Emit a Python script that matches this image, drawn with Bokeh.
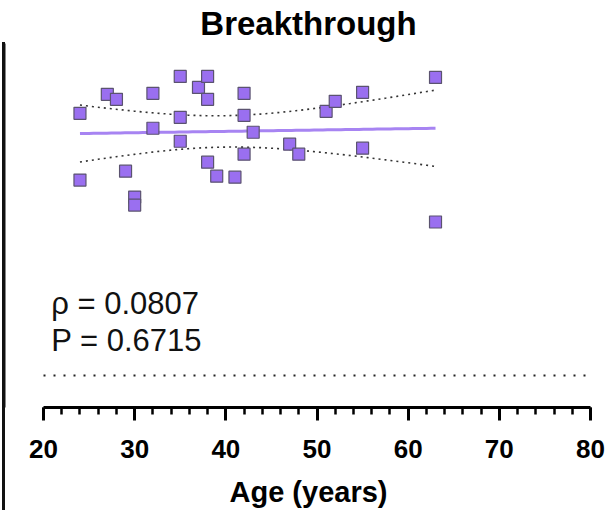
import numpy as np
from bokeh.plotting import figure
from bokeh.models import (Range1d, FixedTicker, Title, Label, BoxAnnotation,
                          ColumnDataSource, InlineStyleSheet)
from bokeh.embed import file_html
from bokeh.resources import INLINE

# ---- data ----
age = [24, 24, 27, 28, 29, 30, 30, 32, 32, 35, 35, 35, 37, 38, 38, 38, 39, 41,
       42, 42, 42, 43, 47, 48, 51, 52, 55, 55, 63, 63]
value = [3.63, 2.96, 3.82, 3.77, 3.05, 2.79, 2.71, 3.83, 3.48, 4.00, 3.59, 3.35,
         3.89, 4.00, 3.77, 3.14, 3.00, 2.99, 3.83, 3.61, 3.22, 3.44, 3.32, 3.22,
         3.65, 3.75, 3.84, 3.28, 3.99, 2.54]
threshold = 1.0
x_ticks = [20, 30, 40, 50, 60, 70, 80]
rho_text = "\u03c1 = 0.0807"
p_text = "P = 0.6715"
title_text = "Breakthrough"
x_label = "Age (years)"

# ---- linear fit with 95% confidence band ----
x = np.array(age, dtype=float)
y = np.array(value, dtype=float)
n = len(x)
slope, intercept = np.polyfit(x, y, 1)
resid = y - (slope * x + intercept)
s = np.sqrt(np.sum(resid ** 2) / (n - 2))
t_crit = 2.048  # t(0.975, df=28)
xf = np.linspace(x.min(), x.max(), 80)
yf = slope * xf + intercept
se = s * np.sqrt(1.0 / n + (xf - x.mean()) ** 2 / np.sum((x - x.mean()) ** 2))
upper = yf + t_crit * se
lower = yf - t_crit * se

FONT = "Liberation Sans"

rule_css = InlineStyleSheet(css="""
:host::after {
  content: '';
  position: absolute;
  left: 2px;
  top: 42px;
  width: 3px;
  height: 468px;
  background: #111111;
  z-index: 10;
  pointer-events: none;
}
""")

p = figure(width=616, height=510, output_backend="svg", toolbar_location=None,
           y_axis_location=None, min_border_left=0, min_border_right=0,
           min_border_top=0, min_border_bottom=0,
           x_range=Range1d(15.283, 82.852), y_range=Range1d(0.68, 4.33))
p.stylesheets = [rule_css]
p.outline_line_color = None
p.xgrid.visible = False
p.ygrid.visible = False
p.background_fill_color = "white"
p.border_fill_color = "white"

p.title = Title(text=title_text, align="center", text_font=FONT,
                text_font_size="33px", text_font_style="bold",
                text_color="black", offset=0, standoff=4)

ax = p.xaxis[0]
ax.bounds = (20, 80)
ax.ticker = FixedTicker(ticks=x_ticks, minor_ticks=list(range(20, 81, 2)))
ax.axis_line_width = 3
ax.axis_line_color = "black"
ax.major_tick_line_width = 3
ax.major_tick_line_color = "black"
ax.major_tick_out = 13
ax.major_tick_in = 0
ax.minor_tick_line_width = 2.5
ax.minor_tick_line_color = "black"
ax.minor_tick_out = 7
ax.minor_tick_in = 0
ax.major_label_text_font = FONT
ax.major_label_text_font_size = "26px"
ax.major_label_text_font_style = "bold"
ax.major_label_text_color = "black"
ax.major_label_standoff = 19
ax.axis_label = x_label
ax.axis_label_text_font = FONT
ax.axis_label_text_font_size = "29px"
ax.axis_label_text_font_style = "bold"
ax.axis_label_text_color = "black"
ax.axis_label_standoff = 15

# left vertical rule (frame part)
p.add_layout(BoxAnnotation(left=2, right=5, top=42, bottom=510,
                           left_units="canvas", right_units="canvas",
                           top_units="canvas", bottom_units="canvas",
                           fill_color="#111111", fill_alpha=1.0,
                           line_color=None))

# threshold line
p.line([20, 80], [threshold, threshold], line_color="#222222", line_width=2,
       line_dash="2 8")

# confidence band and fit
p.line(xf, upper, line_color="#333333", line_width=1.6, line_dash="2 4")
p.line(xf, lower, line_color="#333333", line_width=1.6, line_dash="2 4")
p.line(xf, yf, line_color="#a784f2", line_width=3)

src = ColumnDataSource(dict(age=age, value=value))
p.scatter("age", "value", source=src, marker="square", size=12,
          fill_color="#9a6ff0", line_color="#5b5370", line_width=1.2)

for txt, yy in [(rho_text, 1.72), (p_text, 1.35)]:
    p.add_layout(Label(x=20.85, y=yy, text=txt, text_font=FONT,
                       text_font_size="31px", text_color="#111111",
                       text_baseline="middle", text_align="left"))

open("out.html", "w").write(file_html(p, INLINE))
